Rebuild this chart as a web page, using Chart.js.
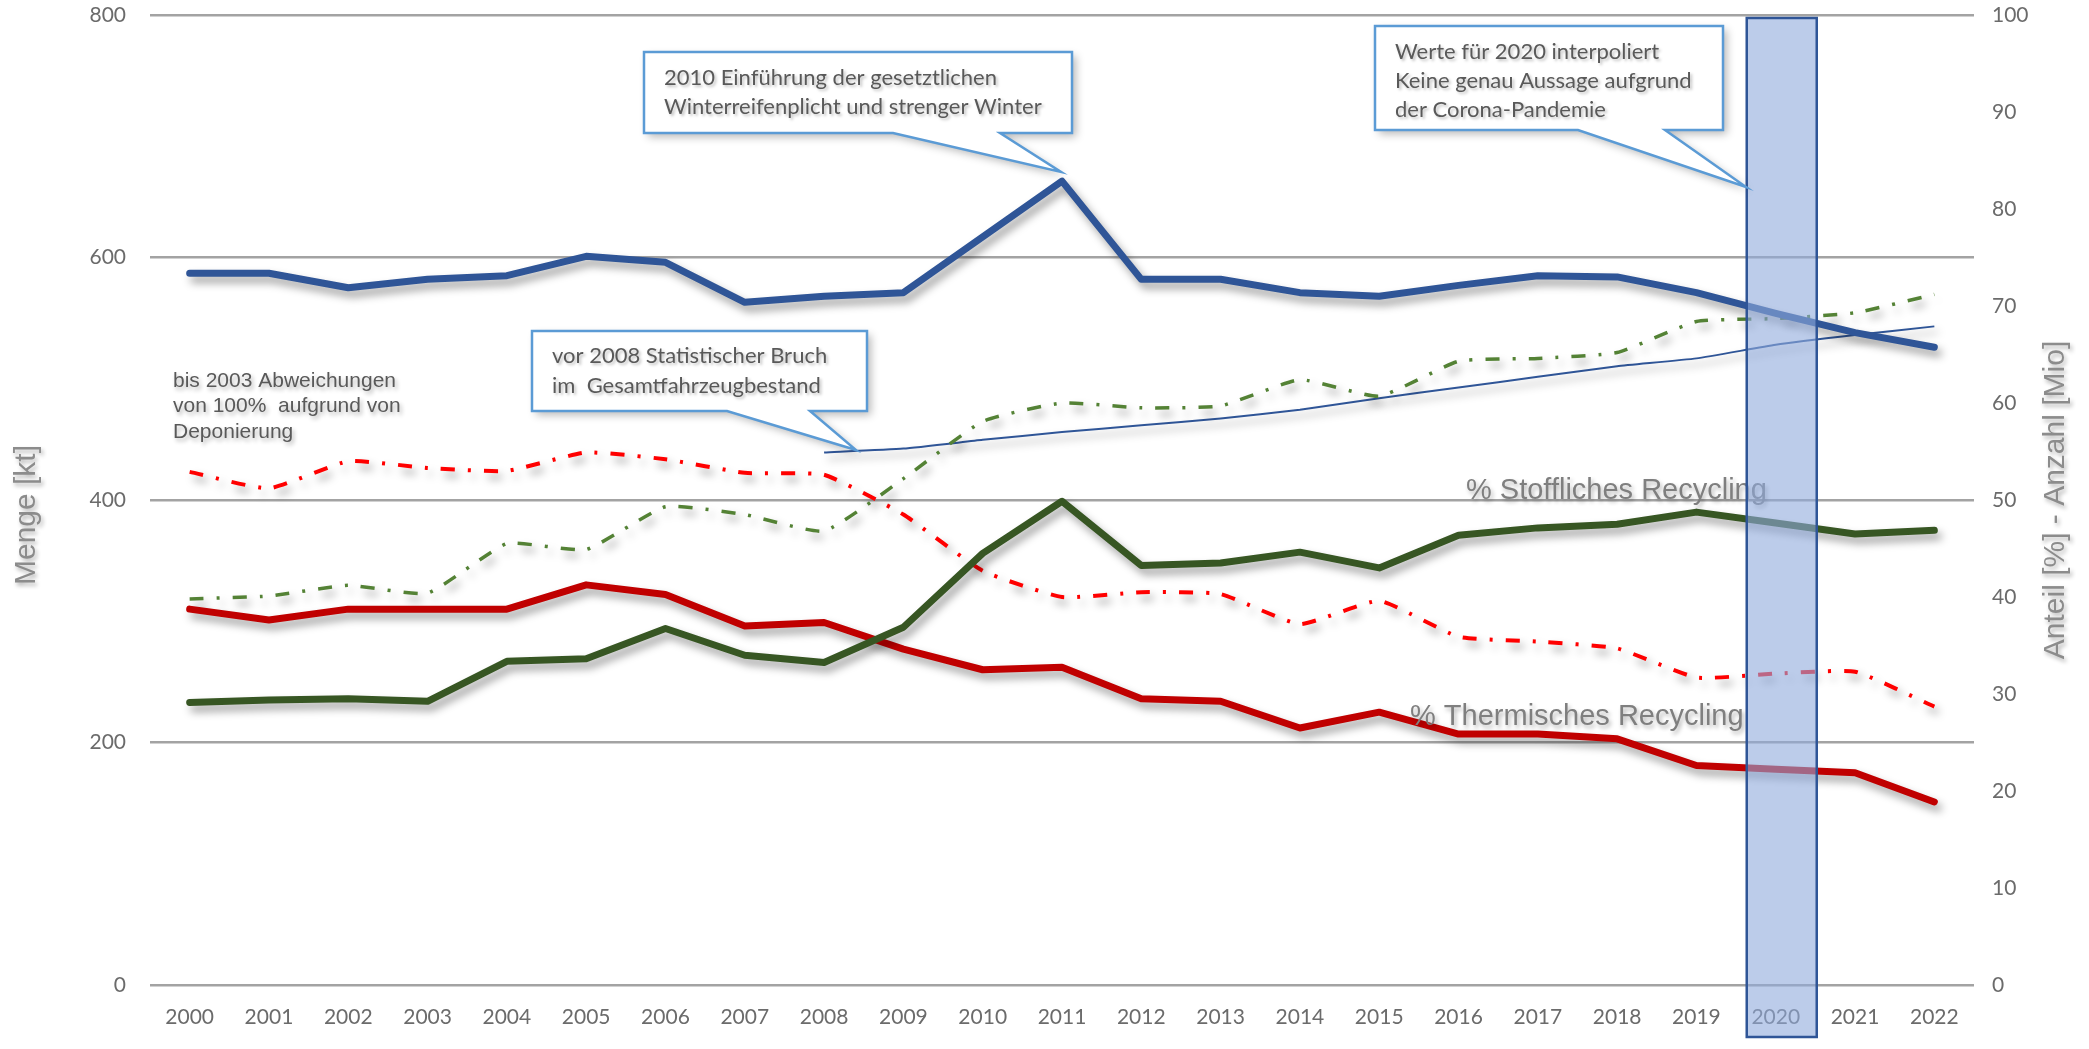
<!DOCTYPE html>
<html>
<head>
<meta charset="utf-8">
<script src="https://cdn.jsdelivr.net/npm/chart.js@4.4.1/dist/chart.umd.min.js"></script>
<style>
  html, body { margin: 0; padding: 0; background: #fff; }
  #wrap { width: 2089px; height: 1049px; position: relative; }
</style>
</head>
<body>
<div id="wrap"><canvas id="reifenChart"></canvas></div>
<script>
const years = ['2000','2001','2002','2003','2004','2005','2006','2007','2008','2009','2010','2011',
               '2012','2013','2014','2015','2016','2017','2018','2019','2020','2021','2022'];

// linke Achse: Menge [kt]
const mengeKt      = [587, 587, 575, 582, 585, 601, 596, 563, 568, 571, 617, 663, 582, 582, 571, 568, 577, 585, 584, 571, 554, 538, 526];
const stofflichKt  = [233, 235, 236, 234, 267, 269, 294, 272, 266, 295, 356, 399, 346, 348, 357, 344, 371, 377, 380, 390, 381, 372, 375];
const thermischKt  = [310, 301, 310, 310, 310, 330, 322, 296, 299, 277, 260, 262, 236, 234, 212, 225, 207, 207, 203, 181, 178, 175, 151];

// rechte Achse: Anteil [%] / Anzahl [Mio]
const stofflichPct = [39.8, 40.1, 41.2, 40.4, 45.5, 44.9, 49.3, 48.5, 46.8, 52.2, 58.1, 60.0, 59.5, 59.7, 62.4, 60.7, 64.3, 64.6, 65.2, 68.4, 68.7, 69.3, 71.2];
const thermischPct = [52.9, 51.2, 54.0, 53.3, 53.0, 54.9, 54.2, 52.8, 52.6, 48.5, 42.7, 40.0, 40.5, 40.3, 37.2, 39.6, 35.9, 35.4, 34.7, 31.7, 32.1, 32.3, 28.7];
const anzahlMio    = [null, null, null, null, null, null, null, null, 54.9, 55.3, 56.2, 57.0, 57.7, 58.4, 59.3, 60.5, 61.6, 62.7, 63.8, 64.6, 66.0, 67.0, 67.9];

const leftTicks  = [0, 200, 400, 600, 800];
const rightTicks = [0, 10, 20, 30, 40, 50, 60, 70, 80, 90, 100];

const labelFont = 'Lato, "Open Sans", sans-serif';
const textGray = '#595959';

function shadow(ctx, c, blur, ox, oy) {
  ctx.shadowColor = c; ctx.shadowBlur = blur; ctx.shadowOffsetX = ox; ctx.shadowOffsetY = oy;
}

function callout(ctx, box, b1, b2, tip, lines) {
  ctx.save();
  ctx.beginPath();
  ctx.moveTo(box.x, box.y);
  ctx.lineTo(box.x + box.w, box.y);
  ctx.lineTo(box.x + box.w, box.y + box.h);
  ctx.lineTo(b2, box.y + box.h);
  ctx.lineTo(tip[0], tip[1]);
  ctx.lineTo(b1, box.y + box.h);
  ctx.lineTo(box.x, box.y + box.h);
  ctx.closePath();
  shadow(ctx, 'rgba(0,0,0,0.28)', 8, 4, 4);
  ctx.fillStyle = '#fff';
  ctx.fill();
  shadow(ctx, 'rgba(0,0,0,0)', 0, 0, 0);
  ctx.strokeStyle = '#5B9BD5';
  ctx.lineWidth = 2.5;
  ctx.lineJoin = 'miter';
  ctx.stroke();
  ctx.font = '22px ' + labelFont;
  ctx.fillStyle = textGray;
  ctx.textBaseline = 'middle';
  shadow(ctx, 'rgba(0,0,0,0.25)', 3, 2, 2);
  lines.forEach(l => ctx.fillText(l.t, l.x, l.y));
  ctx.restore();
}

const lineShadow = {
  id: 'lineShadow',
  beforeDatasetDraw(chart) {
    const ctx = chart.ctx;
    ctx.save();
    shadow(ctx, 'rgba(0,0,0,0.38)', 8, 4, 6);
  },
  afterDatasetDraw(chart) { chart.ctx.restore(); }
};

const overlays = {
  id: 'overlays',
  afterDraw(chart) {
    const ctx = chart.ctx;
    const x = chart.scales.x;

    // Beschriftungen im Diagramm
    ctx.save();
    ctx.textBaseline = 'middle';
    shadow(ctx, 'rgba(0,0,0,0.3)', 4, 2, 3);
    ctx.fillStyle = '#7f7f7f';
    ctx.font = '29px "Liberation Sans", Arial, sans-serif';
    ctx.fillText('% Stoffliches Recycling', 1466, 491);
    ctx.fillText('% Thermisches Recycling', 1410, 717);
    ctx.fillStyle = textGray;
    ctx.font = '21px "Liberation Sans", Arial, sans-serif';
    ctx.fillText('bis 2003 Abweichungen', 173, 381);
    ctx.fillText('von 100%  aufgrund von', 173, 406);
    ctx.fillText('Deponierung', 173, 432);
    ctx.restore();

    // Markierung 2020
    const cx = x.getPixelForValue(years.indexOf('2020'));
    ctx.save();
    ctx.fillStyle = 'rgba(143,170,220,0.6)';
    ctx.fillRect(cx - 29, 18, 70, 1019);
    ctx.strokeStyle = '#2F5597';
    ctx.lineWidth = 2.5;
    ctx.strokeRect(cx - 29, 18, 70, 1019);
    ctx.restore();

    // Callouts
    callout(ctx, {x: 644, y: 52, w: 428, h: 81}, 893, 1000, [1061, 172], [
      {t: '2010 Einführung der gesetztlichen', x: 664, y: 78},
      {t: 'Winterreifenplicht und strenger Winter', x: 664, y: 107}
    ]);
    callout(ctx, {x: 1375, y: 26, w: 348, h: 104}, 1578, 1665, [1746, 187], [
      {t: 'Werte für 2020 interpoliert', x: 1395, y: 52},
      {t: 'Keine genau Aussage aufgrund', x: 1395, y: 81},
      {t: 'der Corona-Pandemie', x: 1395, y: 110}
    ]);
    callout(ctx, {x: 532, y: 331, w: 335, h: 80}, 727, 810, [856, 450], [
      {t: 'vor 2008 Statistischer Bruch', x: 552, y: 356},
      {t: 'im  Gesamtfahrzeugbestand', x: 552, y: 386}
    ]);

    // Achsentitel
    [[27, 515, 'Menge [kt]'], [2056, 500, 'Anteil [%] - Anzahl [Mio]']].forEach(([tx, ty, t]) => {
      ctx.save();
      ctx.fillStyle = '#8c8c8c';
      ctx.font = '30px "Liberation Sans", Arial, sans-serif';
      ctx.textAlign = 'center';
      ctx.textBaseline = 'middle';
      shadow(ctx, 'rgba(0,0,0,0.3)', 4, 2, 3);
      ctx.translate(tx, ty);
      ctx.rotate(-Math.PI / 2);
      ctx.fillText(t, 0, 0);
      ctx.restore();
    });
  }
};

const thick = (label, data, color) => ({
  label, data, borderColor: color, borderWidth: 7, yAxisID: 'y',
  pointRadius: 0, borderCapStyle: 'round', borderJoinStyle: 'round', tension: 0
});
const dashDot = (label, data, color, w) => ({
  label, data, borderColor: color, borderWidth: w, yAxisID: 'y1',
  pointRadius: 0, borderDash: [14, 13, 3, 13], borderCapStyle: 'butt', tension: 0.15
});

new Chart(document.getElementById('reifenChart'), {
  type: 'line',
  data: {
    labels: years,
    datasets: [
      thick('Menge Altreifen', mengeKt, '#2F5597'),
      thick('Stoffliches Recycling', stofflichKt, '#375623'),
      thick('Thermisches Recycling', thermischKt, '#C00000'),
      dashDot('% Stoffliches Recycling', stofflichPct, '#548235', 3.5),
      dashDot('% Thermisches Recycling', thermischPct, '#FF0000', 4),
      { label: 'Fahrzeugbestand', data: anzahlMio, borderColor: '#2F5597', borderWidth: 2,
        yAxisID: 'y1', pointRadius: 0, tension: 0.15 }
    ]
  },
  options: {
    responsive: true,
    maintainAspectRatio: false,
    animation: false,
    layout: { padding: { top: 15, left: 0, right: 0, bottom: 0 } },
    plugins: { legend: { display: false }, tooltip: { enabled: false } },
    scales: {
      x: {
        offset: true,
        grid: { display: false },
        border: { display: false },
        ticks: { color: '#6b6b6b', font: { family: labelFont, size: 21 }, padding: 12, maxRotation: 0 },
        afterFit(s) { s.height = 64; }
      },
      y: {
        position: 'left', min: 0, max: 800,
        afterBuildTicks(s) { s.ticks = leftTicks.map(v => ({ value: v })); },
        grid: { color: '#a3a3a3', lineWidth: 2.5, drawTicks: false },
        border: { display: false },
        ticks: { color: '#6b6b6b', font: { family: labelFont, size: 21 }, padding: 24 },
        afterFit(s) { s.width = 150; s.paddingTop = 12; s.paddingBottom = 0; }
      },
      y1: {
        position: 'right', min: 0, max: 100,
        afterBuildTicks(s) { s.ticks = rightTicks.map(v => ({ value: v })); },
        grid: { display: false, drawTicks: false },
        border: { display: false },
        ticks: { color: '#6b6b6b', font: { family: labelFont, size: 21 }, padding: 18 },
        afterFit(s) { s.width = 115; s.paddingTop = 12; s.paddingBottom = 0; }
      }
    }
  },
  plugins: [lineShadow, overlays]
});
</script>
</body>
</html>
